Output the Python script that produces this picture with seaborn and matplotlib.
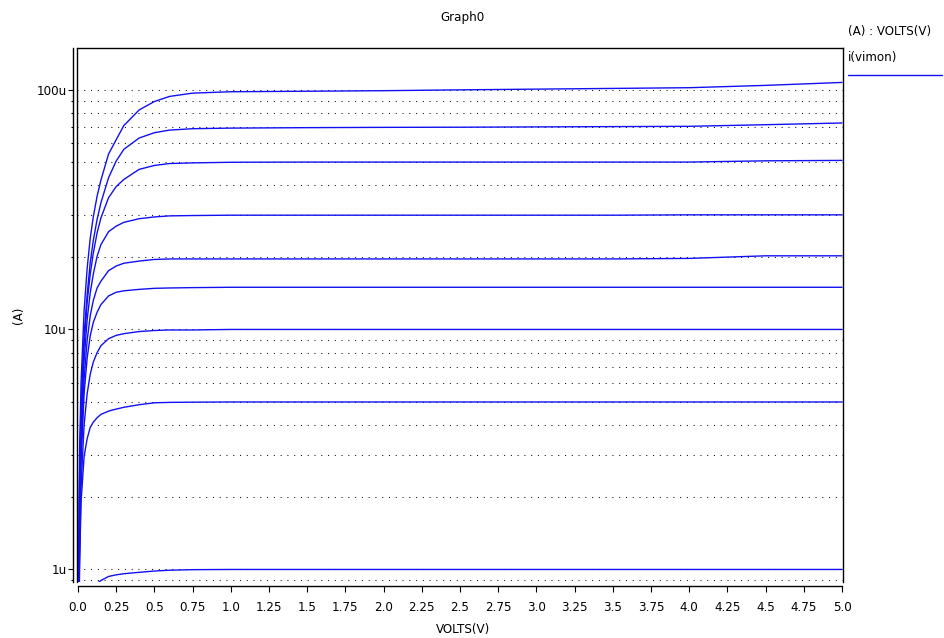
import numpy as np
import pandas as pd
import matplotlib
matplotlib.use("Agg")
import matplotlib.pyplot as plt
from matplotlib.lines import Line2D
from matplotlib.ticker import FixedLocator, LogLocator, NullFormatter
import seaborn as sns

# Drain sweep (V) shared by every trace
volts = [0.0, 0.01, 0.02, 0.04, 0.06, 0.08, 0.10, 0.125, 0.15, 0.20, 0.25, 0.30,
         0.40, 0.50, 0.60, 0.75, 1.00, 1.50, 2.00, 2.50, 3.00, 3.50, 4.00, 4.50, 5.00]

# i(vimon) per bias step, in microamps
i_100u = [0.2, 3.0, 6.0, 12.0, 18.0, 24.0, 29.5, 36.0, 42.0, 54.0, 62.0, 71.0,
          82.5, 89.5, 94.0, 97.0, 98.3, 98.8, 99.3, 100.1, 100.8, 101.5, 102.2, 104.5, 107.5]
i_70u = [0.2, 2.4, 4.8, 9.5, 14.0, 19.0, 23.5, 28.8, 33.8, 43.0, 50.5, 56.5,
         63.0, 66.3, 68.0, 68.9, 69.3, 69.6, 69.8, 69.9, 70.1, 70.3, 70.5, 71.6, 72.8]
i_50u = [0.2, 2.2, 4.4, 8.7, 13.0, 17.0, 20.8, 25.3, 29.2, 35.5, 39.5, 42.3,
         46.6, 48.4, 49.3, 49.6, 49.9, 50.0, 50.0, 50.0, 50.0, 50.0, 50.0, 50.6, 50.8]
i_30u = [0.2, 1.9, 3.8, 7.4, 11.0, 14.2, 17.0, 20.2, 22.6, 25.6, 27.0, 28.0,
         29.0, 29.5, 29.8, 29.9, 30.0, 30.0, 30.0, 30.0, 30.0, 30.0, 30.1, 30.1, 30.1]
i_20u = [0.2, 1.6, 3.2, 6.2, 9.0, 11.4, 13.2, 14.9, 15.9, 17.6, 18.4, 18.9,
         19.3, 19.6, 19.7, 19.7, 19.7, 19.7, 19.7, 19.7, 19.7, 19.7, 19.8, 20.3, 20.3]
i_15u = [0.2, 1.4, 2.8, 5.4, 7.6, 9.4, 10.7, 11.8, 12.7, 13.8, 14.3, 14.5,
         14.7, 14.85, 14.9, 14.95, 15.0, 15.0, 15.0, 15.0, 15.0, 15.0, 15.0, 15.0, 15.0]
i_10u = [0.2, 1.1, 2.2, 4.0, 5.4, 6.5, 7.3, 8.0, 8.55, 9.15, 9.45, 9.6,
         9.8, 9.9, 9.95, 9.95, 10.0, 10.0, 10.0, 10.0, 10.0, 10.0, 10.0, 10.0, 10.0]
i_5u = [0.2, 1.0, 1.9, 2.95, 3.5, 3.9, 4.1, 4.28, 4.42, 4.56, 4.65, 4.73,
        4.85, 4.94, 4.96, 4.97, 4.98, 4.98, 4.98, 4.98, 4.98, 4.98, 4.98, 4.98, 4.98]
i_1u = [0.1, 0.25, 0.4, 0.6, 0.72, 0.79, 0.83, 0.87, 0.895, 0.93, 0.945, 0.955,
        0.968, 0.98, 0.988, 0.993, 0.995, 0.995, 0.995, 0.995, 0.995, 0.995, 0.995, 0.995, 0.995]

x_ticks = [0.0, 0.25, 0.5, 0.75, 1.0, 1.25, 1.5, 1.75, 2.0, 2.25, 2.5, 2.75, 3.0,
           3.25, 3.5, 3.75, 4.0, 4.25, 4.5, 4.75, 5.0]
x_tick_labels = ["0.0", "0.25", "0.5", "0.75", "1.0", "1.25", "1.5", "1.75", "2.0",
                 "2.25", "2.5", "2.75", "3.0", "3.25", "3.5", "3.75", "4.0", "4.25",
                 "4.5", "4.75", "5.0"]
y_ticks = [1, 10, 100]
y_tick_labels = ["1u", "10u", "100u"]

traces = {"100u": i_100u, "70u": i_70u, "50u": i_50u, "30u": i_30u, "20u": i_20u,
          "15u": i_15u, "10u": i_10u, "5u": i_5u, "1u": i_1u}
df = pd.concat(
    [pd.DataFrame({"V": volts, "I": vals, "trace": name}) for name, vals in traces.items()],
    ignore_index=True,
)

sns.set_style("ticks")
plt.rcParams["font.family"] = ["DejaVu Sans"]
plt.rcParams["font.size"] = 8.6
plt.rcParams["text.color"] = "black"
plt.rcParams["axes.labelcolor"] = "black"
plt.rcParams["xtick.color"] = "black"
plt.rcParams["ytick.color"] = "black"

BLUE = "#1010f2"
FS = 8.6
W, H = 945, 638

fig = plt.figure(figsize=(W / 100, H / 100), dpi=100)
ax = fig.add_axes([77 / W, (H - 582) / H, 766 / W, 534 / H])

sns.lineplot(data=df, x="V", y="I", hue="trace", palette=[BLUE] * len(traces),
             estimator=None, sort=False, legend=False, lw=1.0, ax=ax)

ax.set_yscale("log")
ax.set_ylim(0.882, 149.7)
ax.set_xlim(-0.0065, 5.0065)

ax.xaxis.set_major_locator(FixedLocator(x_ticks))
ax.set_xticklabels(x_tick_labels)
ax.yaxis.set_major_locator(FixedLocator(y_ticks))
ax.set_yticklabels(y_tick_labels)
ax.yaxis.set_minor_locator(LogLocator(base=10, subs=np.arange(2, 10), numticks=20))
ax.yaxis.set_minor_formatter(NullFormatter())
ax.xaxis.set_minor_locator(FixedLocator([]))

ax.set_xlabel("")
ax.set_ylabel("")

# dotted horizontal grid on every decade sub-division
ax.grid(False, axis="x")
ax.grid(True, which="both", axis="y", color="#101010", lw=0.75, linestyle=(0, (1, 5.5)))
ax.set_axisbelow(True)

for side in ["top", "right", "left", "bottom"]:
    ax.spines[side].set_color("black")
    ax.spines[side].set_linewidth(1.0)
ax.spines["left"].set_position(("outward", 2.9))
ax.spines["bottom"].set_position(("outward", 2.9))
ax.spines["bottom"].set_bounds(0, 5)
# inner frame edge on the left of the plot area
ax.plot([0, 0], [0, 1], transform=ax.transAxes, color="black", lw=1.0, clip_on=False)

ax.tick_params(axis="x", which="major", direction="out", length=4.3, width=0.8,
               pad=6.5, labelsize=FS, colors="black")
ax.tick_params(axis="y", which="major", direction="out", length=3.5, width=0.8,
               pad=1, labelsize=FS, colors="black")
ax.tick_params(axis="y", which="minor", direction="out", length=1.6, width=0.8)
ax.tick_params(top=False, right=False, which="both")

fig.text(463 / W, 1 - 17 / H, "Graph0", ha="center", va="center", fontsize=FS, color="black")
fig.text(463 / W, 1 - 630 / H, "VOLTS(V)", ha="center", va="center", fontsize=FS, color="black")
fig.text(18 / W, 1 - 315 / H, "(A)", ha="center", va="center", rotation=90, fontsize=FS,
         color="black")

# trace key at the upper right
fig.text(848 / W, 1 - 31 / H, "(A) : VOLTS(V)", ha="left", va="center", fontsize=FS,
         color="black")
fig.text(848 / W, 1 - 57 / H, "i(vimon)", ha="left", va="center", fontsize=FS, color="black")
fig.add_artist(Line2D([848 / W, 942 / W], [1 - 75 / H, 1 - 75 / H], color=BLUE, lw=1.0))

fig.savefig("out.png", dpi=100)
